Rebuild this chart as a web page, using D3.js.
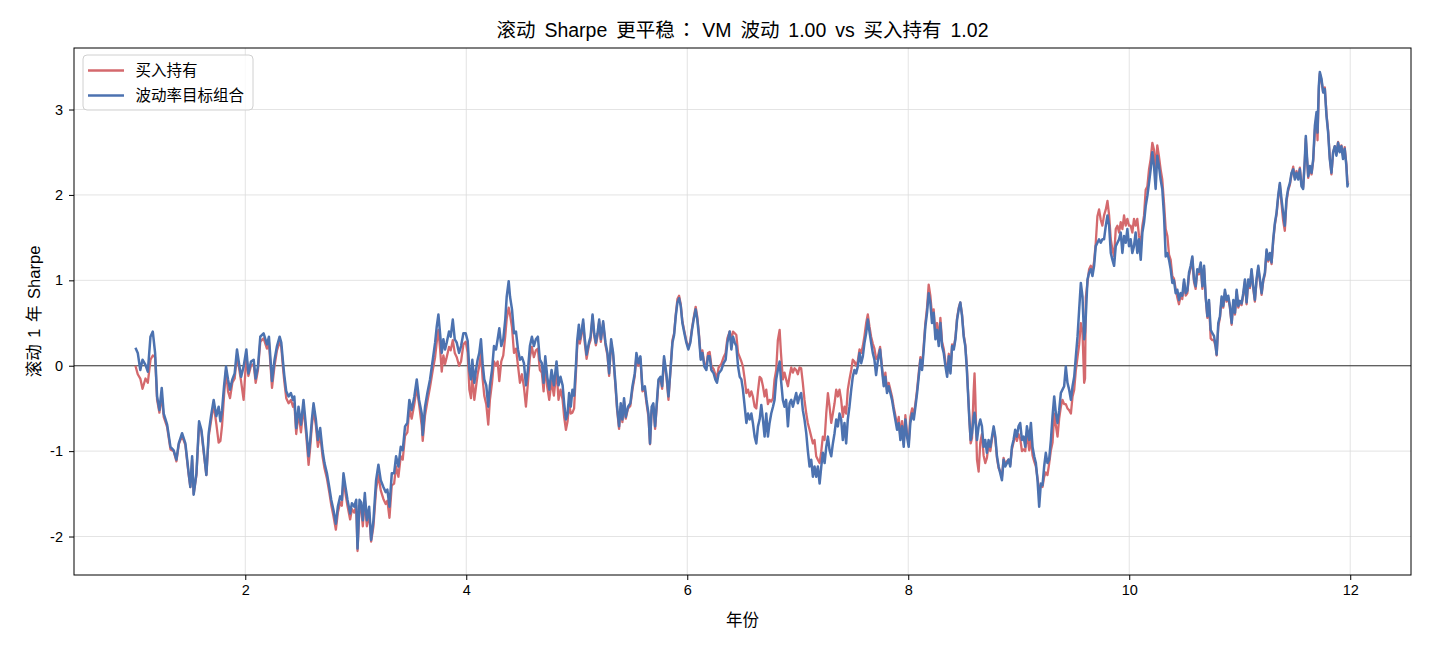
<!DOCTYPE html>
<html><head><meta charset="utf-8">
<script src="https://cdn.jsdelivr.net/npm/d3@7/dist/d3.min.js"></script>
<style>
body{margin:0;background:#fff}
text{font-family:"Liberation Sans","Noto Sans CJK SC",sans-serif;fill:#000}
</style>
</head><body>
<svg id="chart" width="1430" height="650"></svg>
<script>
// ---- data ----
const years = [
1.006,1.027,1.05,1.07,1.097,1.118,1.142,1.163,1.184,1.202,
1.223,1.244,1.262,1.293,1.323,1.352,1.377,1.398,1.428,1.458,
1.488,1.503,1.519,1.533,1.558,1.582,1.603,1.624,1.648,1.669,
1.69,1.714,1.738,1.759,1.775,1.79,1.808,1.826,1.844,1.862,
1.883,1.904,1.925,1.943,1.962,1.985,2.01,2.028,2.052,2.076,
2.094,2.115,2.136,2.166,2.196,2.214,2.242,2.265,2.287,2.311,
2.326,2.341,
2.353,2.371,2.392,2.413,2.432,2.444,2.461,2.482,2.504,2.527,
2.552,2.573,2.588,2.603,2.618,2.639,2.657,2.678,2.699,2.717,
2.739,2.76,2.778,2.798,2.82,2.838,2.859,2.874,2.889,2.907,
2.925,2.949,2.965,2.986,3.004,3.016,3.034,3.049,3.064,3.082,
3.1,3.121,3.139,3.16,3.184,3.205,3.226,3.25,3.271,3.286,
3.305,3.326,3.347,3.365,3.386,3.407,3.425,3.446,3.467,3.485,
3.506,3.53,3.552,3.573,
3.597,3.606,3.627,3.648,3.672,3.697,3.718,3.733,3.748,3.763,
3.778,3.793,3.808,3.823,3.844,3.859,3.878,3.896,3.914,3.935,
3.953,3.974,3.995,4.013,4.028,4.043,4.055,4.073,4.088,4.103,
4.118,4.133,4.148,4.163,4.181,4.199,4.214,4.233,4.251,4.269,
4.284,4.299,4.317,4.335,4.353,4.366,4.384,4.396,4.414,4.432,
4.45,4.468,4.486,4.504,4.522,4.54,4.558,4.576,4.594,4.612,
4.63,4.648,4.666,4.684,4.7,4.715,4.733,4.751,4.772,4.793,
4.817,4.835,4.853,4.872,4.886,4.902,4.917,4.931,4.946,4.961,
4.976,4.992,
5.004,5.019,5.028,5.043,5.058,5.073,5.089,5.11,5.125,5.143,
5.158,5.173,5.188,5.203,5.218,5.239,5.26,5.278,5.293,5.311,
5.329,5.35,5.365,5.383,5.398,5.413,5.428,5.443,5.464,5.485,
5.504,5.525,5.54,5.558,5.576,5.595,5.616,5.631,5.649,5.663,
5.678,5.693,5.709,5.724,5.74,5.758,5.773,5.79,5.811,5.83,
5.848,5.866,5.881,5.896,5.911,5.926,5.941,5.956,5.974,5.992,
6.01,6.028,6.043,6.058,6.076,6.091,6.106,6.122,6.137,6.155,
6.173,6.188,6.203,6.218,6.239,6.254,6.269,6.284,
6.308,6.329,6.347,6.363,6.384,6.399,6.414,6.43,6.444,6.46,
6.475,6.49,6.504,6.52,6.535,6.55,6.565,6.58,6.594,6.61,
6.625,6.64,6.655,6.67,6.685,6.7,6.715,6.73,6.745,6.76,
6.776,6.79,6.805,6.82,6.836,6.848,6.865,6.88,6.895,6.911,
6.926,6.941,6.956,6.971,6.986,7.001,7.016,7.031,7.046,7.061,
7.077,7.091,7.107,7.122,7.137,7.152,7.167,7.182,7.198,7.213,
7.227,7.243,7.258,7.273,7.288,7.303,7.318,7.333,7.348,7.363,
7.378,7.393,7.408,7.423,7.438,7.453,7.468,7.484,7.498,7.513,
7.528,7.543,7.559,7.574,7.589,7.604,7.619,7.634,7.649,7.664,
7.679,7.694,
7.709,7.724,7.745,7.763,7.778,7.793,7.808,7.823,7.838,7.853,
7.868,7.883,7.899,7.914,7.929,7.944,7.959,7.974,7.989,8.004,
8.019,8.035,8.05,8.065,8.08,8.095,8.11,8.125,8.14,8.155,
8.17,8.185,8.2,8.215,8.23,8.246,8.261,8.276,8.291,8.306,
8.321,8.337,8.352,8.367,8.382,8.397,8.412,8.427,8.442,8.457,
8.471,8.487,8.502,8.516,8.529,8.541,8.553,8.565,8.577,8.592,
8.6,8.607,8.622,8.637,8.652,8.667,8.682,8.697,8.712,8.727,
8.743,8.758,8.773,8.788,8.803,8.818,8.833,8.848,8.863,8.878,
8.893,8.908,8.923,8.938,8.953,8.968,8.983,8.998,9.013,9.029,
9.044,9.059,9.074,
9.095,9.11,9.125,9.14,9.155,9.17,9.185,9.2,9.215,9.23,
9.245,9.26,9.275,9.291,9.306,9.321,9.336,9.351,9.366,9.381,
9.396,9.411,9.426,9.441,9.456,9.472,9.487,9.502,9.517,9.532,
9.547,9.562,9.577,9.592,9.6,9.607,9.622,9.637,9.652,9.667,
9.682,9.697,9.712,9.727,9.742,9.757,9.772,9.788,9.803,9.818,
9.833,9.848,9.863,9.878,9.893,9.908,9.923,9.938,9.953,9.968,
9.983,9.998,10.013,10.028,10.043,10.058,10.073,10.088,10.104,10.119,
10.134,10.149,10.164,10.179,10.194,10.209,10.224,10.239,10.254,10.269,
10.284,10.299,10.315,10.33,10.345,10.36,10.375,10.39,10.405,10.42,
10.435,
10.45,10.465,10.48,10.496,10.511,10.526,10.541,10.556,10.571,10.586,
10.601,10.616,10.631,10.647,10.662,10.677,10.692,10.707,10.722,10.737,
10.752,10.767,10.782,10.791,10.806,10.821,10.836,10.851,10.866,10.881,
10.896,10.911,10.927,10.942,10.957,10.972,10.987,11.002,11.017,11.032,
11.047,11.062,11.077,11.092,11.107,11.122,11.137,11.152,11.168,11.183,
11.198,11.213,11.228,11.243,11.258,11.273,11.288,11.303,11.318,11.333,
11.348,11.363,11.378,11.393,11.408,11.423,11.438,11.454,11.469,11.484,
11.499,11.514,11.529,11.544,11.559,11.574,11.589,11.598,11.61,11.62,
11.635,11.65,11.665,11.68,11.695,11.704,11.716,11.725,11.74,11.755,
11.77,11.785,11.8,11.815,11.83,11.845,11.86,11.875,11.89,11.905,
11.92,11.935,11.95,11.965,11.975,11.98
];

// 波动率目标组合 (vol-target portfolio)
const volTarget = [
0.21,0.15,-0.05,0.07,0.01,-0.07,0.34,0.40,0.15,-0.36,
-0.52,-0.26,-0.56,-0.69,-0.95,-0.99,-1.10,-0.91,-0.79,-0.91,
-1.26,-1.42,-1.06,-1.51,-1.26,-0.65,-0.75,-0.99,-1.28,-0.79,
-0.59,-0.40,-0.59,-0.48,-0.65,-0.52,-0.24,-0.01,-0.16,-0.28,
-0.16,-0.09,0.19,0.03,-0.13,-0.01,0.19,-0.09,0.05,0.07,
-0.15,-0.01,0.34,0.38,0.25,0.34,-0.18,0.07,0.23,0.34,
0.27,0.05,
-0.11,-0.30,-0.36,-0.32,-0.40,-0.36,-0.73,-0.48,-0.69,-0.40,
-0.75,-1.06,-0.87,-0.63,-0.44,-0.63,-0.87,-0.73,-0.99,-1.14,
-1.26,-1.42,-1.57,-1.69,-1.85,-1.65,-1.53,-1.57,-1.26,-1.42,
-1.57,-1.73,-1.61,-1.65,-1.57,-2.14,-1.57,-1.60,-1.81,-1.49,
-1.81,-1.65,-2.04,-1.81,-1.34,-1.16,-1.34,-1.42,-1.48,-1.45,
-1.65,-1.26,-1.26,-1.06,-1.18,-0.95,-0.99,-0.71,-0.67,-0.40,
-0.52,-0.36,-0.16,-0.40,
-0.56,-0.81,-0.48,-0.32,-0.16,0.07,0.27,0.46,0.60,0.38,
0.15,0.31,0.19,0.27,0.40,0.34,0.54,0.31,0.27,0.15,
0.23,0.38,0.38,0.29,-0.05,-0.16,0.07,-0.20,-0.05,0.07,
0.15,0.31,0.03,-0.16,-0.23,-0.48,-0.23,-0.05,0.23,0.19,
0.31,0.44,0.23,0.31,0.54,0.81,0.99,0.81,0.66,0.38,
0.40,0.19,0.07,0.10,0.03,-0.23,-0.05,0.23,0.34,0.23,
0.31,0.34,0.07,0.03,-0.20,0.11,-0.13,-0.28,-0.05,-0.23,
0.05,-0.23,-0.13,-0.23,-0.44,-0.63,-0.56,-0.32,-0.48,-0.28,
-0.35,-0.01,
0.29,0.48,0.31,0.40,0.54,0.31,0.13,0.27,0.34,0.60,
0.38,0.27,0.38,0.54,0.31,0.52,0.27,0.15,-0.09,0.31,
0.15,-0.20,-0.48,-0.71,-0.44,-0.63,-0.38,-0.60,-0.48,-0.44,
-0.24,-0.09,0.15,0.03,0.11,-0.28,-0.24,-0.40,-0.56,-0.91,
-0.48,-0.44,-0.71,-0.44,-0.16,-0.13,-0.24,0.11,-0.09,-0.36,
-0.05,0.27,0.36,0.58,0.74,0.79,0.70,0.50,0.38,0.27,
0.19,0.27,0.42,0.54,0.66,0.54,0.34,0.07,0.15,-0.01,
-0.05,0.11,0.11,-0.05,-0.09,-0.16,-0.20,-0.09,
-0.05,0.03,0.07,0.27,0.40,0.19,0.34,0.27,0.23,-0.01,
-0.13,-0.16,-0.28,-0.48,-0.67,-0.56,-0.63,-0.56,-0.67,-0.83,
-0.91,-0.71,-0.63,-0.46,-0.63,-0.83,-0.56,-0.83,-0.67,-0.56,
-0.48,-0.40,-0.16,-0.05,0.05,-0.16,-0.40,-0.48,-0.40,-0.71,
-0.44,-0.40,-0.48,-0.40,-0.32,-0.44,-0.36,-0.32,-0.52,-0.63,
-0.79,-0.99,-1.18,-1.10,-1.30,-1.18,-1.30,-1.18,-1.38,-1.18,
-1.02,-1.14,-0.95,-0.83,-0.99,-1.06,-0.91,-0.79,-0.63,-0.71,
-0.56,-0.63,-0.87,-0.67,-0.91,-0.63,-0.48,-0.28,-0.13,-0.05,
-0.09,-0.01,0.15,0.03,0.11,0.27,0.38,0.54,0.40,0.27,
0.15,0.07,
-0.11,0.05,0.19,-0.05,-0.24,-0.13,-0.32,-0.24,-0.32,-0.40,
-0.52,-0.63,-0.75,-0.67,-0.87,-0.71,-0.95,-0.63,-0.83,-0.95,
-0.67,-0.56,-0.63,-0.48,-0.32,-0.13,0.07,-0.05,0.19,0.46,
0.62,0.85,0.74,0.50,0.62,0.31,0.42,0.23,0.50,0.23,
0.15,-0.01,-0.13,0.11,-0.09,0.23,0.19,0.31,0.54,0.66,
0.74,0.58,0.34,0.23,-0.01,-0.32,-0.63,-0.87,-0.79,-0.60,
-0.55,-0.63,-0.87,-0.71,-0.63,-0.71,-0.95,-0.87,-1.02,-0.87,
-0.95,-0.83,-0.71,-0.83,-1.06,-1.18,-1.26,-1.34,-1.10,-1.18,
-1.14,-1.10,-1.18,-0.95,-0.87,-0.75,-0.83,-0.71,-0.67,-0.87,
-0.83,-0.95,-0.71,
-0.87,-0.67,-0.95,-1.06,-1.14,-1.34,-1.65,-1.38,-1.40,-1.18,
-1.02,-1.14,-1.10,-0.87,-0.59,-0.36,-0.56,-0.67,-0.52,-0.32,
-0.28,-0.24,-0.01,-0.20,-0.28,-0.40,-0.24,-0.13,0.11,0.34,
0.66,0.97,0.81,0.31,0.40,0.58,1.01,1.09,1.13,1.05,
1.17,1.40,1.44,1.48,1.44,1.48,1.48,1.64,1.76,1.64,
1.32,1.24,1.17,1.40,1.44,1.48,1.56,1.32,1.52,1.44,
1.60,1.40,1.48,1.32,1.40,1.56,1.32,1.48,1.24,1.56,
1.68,1.87,1.99,2.14,2.30,2.50,2.34,2.07,2.46,2.34,
2.18,2.07,1.75,1.28,1.32,1.24,1.13,0.97,1.00,0.85,
0.89,
0.77,0.85,0.82,1.01,0.85,0.88,1.09,1.17,1.28,1.01,
0.93,1.13,1.10,1.21,0.93,1.17,0.81,0.58,0.77,0.42,
0.38,0.35,0.23,0.13,0.50,0.58,0.81,0.70,0.89,0.77,
0.82,0.70,0.50,0.77,0.62,0.89,0.70,0.76,0.73,0.85,
1.01,0.74,1.01,0.93,1.13,0.93,0.77,1.01,1.17,1.01,
0.85,1.01,1.09,1.36,1.24,1.32,1.21,1.48,1.67,1.79,
1.99,2.14,1.95,1.79,1.64,1.95,2.07,2.14,2.26,2.30,
2.18,2.26,2.18,2.30,2.10,2.07,2.42,2.69,2.42,2.22,
2.34,2.26,2.42,2.81,2.97,2.73,3.28,3.44,3.36,3.20,
3.24,2.93,2.73,2.42,2.26,2.50,2.57,2.46,2.61,2.50,
2.57,2.42,2.54,2.34,2.10,2.14
];

// 买入持有 (buy and hold)
const buyHold = [
0.00,-0.10,-0.15,-0.27,-0.15,-0.20,0.07,0.12,0.10,-0.40,
-0.55,-0.35,-0.60,-0.72,-0.98,-1.00,-1.12,-0.92,-0.82,-0.93,
-1.28,-1.42,-1.10,-1.50,-1.28,-0.68,-0.77,-1.02,-1.28,-0.83,
-0.65,-0.45,-0.68,-0.90,-0.88,-0.70,-0.35,-0.05,-0.30,-0.38,
-0.20,-0.15,0.12,-0.02,-0.18,-0.40,0.12,-0.12,0.00,0.02,
-0.20,-0.05,0.28,0.32,0.20,0.28,-0.26,0.00,0.18,0.28,
0.22,-0.02,
-0.18,-0.38,-0.44,-0.40,-0.48,-0.44,-0.80,-0.55,-0.78,-0.48,
-0.82,-1.16,-0.95,-0.70,-0.52,-0.70,-0.95,-0.80,-1.06,-1.20,
-1.32,-1.48,-1.63,-1.76,-1.92,-1.72,-1.60,-1.64,-1.32,-1.50,
-1.64,-1.80,-1.68,-1.72,-1.64,-2.17,-1.64,-1.68,-1.88,-1.56,
-1.88,-1.72,-2.06,-1.88,-1.45,-1.28,-1.46,-1.56,-1.62,-1.58,
-1.78,-1.40,-1.38,-1.18,-1.30,-1.06,-1.10,-0.82,-0.78,-0.50,
-0.62,-0.45,-0.25,-0.45,
-0.70,-0.88,-0.58,-0.42,-0.25,-0.05,0.10,0.28,0.42,0.20,
-0.07,0.12,0.02,0.10,0.22,0.18,0.30,0.15,0.10,0.00,
0.05,0.25,0.28,0.15,-0.28,-0.38,-0.10,-0.40,-0.25,-0.10,
0.00,0.15,-0.15,-0.35,-0.45,-0.69,-0.40,-0.20,0.05,0.00,
0.05,-0.18,0.05,0.12,0.35,0.55,0.68,0.60,0.45,0.15,
0.20,0.00,-0.20,-0.10,-0.25,-0.48,-0.20,0.10,0.22,0.10,
0.18,0.20,-0.05,-0.08,-0.30,0.00,-0.25,-0.40,-0.18,-0.35,
-0.05,-0.40,-0.28,-0.40,-0.60,-0.75,-0.65,-0.45,-0.56,-0.55,
-0.50,-0.10,
0.22,0.42,0.26,0.36,0.50,0.26,0.08,0.24,0.30,0.58,
0.35,0.24,0.35,0.52,0.28,0.50,0.24,0.12,-0.12,0.28,
0.12,-0.24,-0.52,-0.74,-0.48,-0.66,-0.42,-0.62,-0.50,-0.47,
-0.28,-0.12,0.12,0.00,0.08,-0.30,-0.28,-0.44,-0.60,-0.92,
-0.52,-0.48,-0.74,-0.48,-0.18,-0.16,-0.27,0.08,-0.12,-0.40,
-0.06,0.30,0.38,0.60,0.78,0.82,0.72,0.52,0.40,0.29,
0.21,0.29,0.44,0.56,0.69,0.57,0.37,0.10,0.18,0.02,
0.00,0.15,0.16,0.00,-0.04,-0.10,-0.14,-0.02,
0.02,0.10,0.15,0.32,0.40,0.30,0.40,0.38,0.36,0.15,
0.10,0.05,-0.01,-0.16,-0.32,-0.28,-0.36,-0.30,-0.36,-0.48,
-0.50,-0.30,-0.13,-0.15,-0.24,-0.36,-0.28,-0.45,-0.40,-0.42,
-0.38,-0.16,-0.05,0.30,0.42,0.15,-0.16,-0.08,-0.16,-0.24,
-0.12,-0.02,-0.08,-0.03,-0.05,-0.10,-0.02,-0.03,-0.20,-0.40,
-0.56,-0.67,-0.75,-0.83,-0.91,-0.87,-1.06,-1.10,-1.14,-1.00,
-0.83,-0.87,-0.56,-0.32,-0.48,-0.67,-0.56,-0.44,-0.28,-0.36,
-0.28,-0.40,-0.60,-0.48,-0.56,-0.28,-0.16,-0.05,0.07,0.05,
0.00,0.05,0.19,0.15,0.23,0.35,0.50,0.60,0.46,0.34,
0.26,0.20,
0.08,0.10,0.22,-0.02,-0.20,-0.08,-0.28,-0.20,-0.28,-0.36,
-0.48,-0.58,-0.70,-0.60,-0.84,-0.65,-0.92,-0.58,-0.80,-0.92,
-0.60,-0.50,-0.58,-0.44,-0.28,-0.08,0.10,-0.02,0.24,0.50,
0.68,0.95,0.82,0.60,0.66,0.36,0.50,0.28,0.56,0.28,
0.20,0.04,-0.10,0.14,-0.06,0.25,0.21,0.33,0.56,0.68,
0.74,0.60,0.36,0.25,0.02,-0.30,-0.62,-0.91,-0.85,-0.30,
-0.09,-0.35,-1.10,-1.24,-0.90,-0.80,-1.05,-1.14,-1.08,-0.92,
-1.00,-0.86,-0.74,-0.86,-1.08,-1.20,-1.24,-1.30,-1.08,-1.16,
-1.12,-1.10,-1.16,-0.98,-0.90,-0.80,-0.88,-0.80,-0.85,-1.00,
-0.98,-1.00,-0.78,
-0.99,-0.85,-1.05,-1.12,-1.18,-1.32,-1.45,-1.40,-1.42,-1.30,
-1.25,-1.28,-1.15,-0.99,-0.90,-0.56,-0.70,-0.83,-0.62,-0.48,
-0.40,-0.45,-0.45,-0.50,-0.52,-0.56,-0.36,-0.28,-0.05,0.10,
0.25,0.50,0.40,-0.20,-0.15,0.80,0.97,1.13,1.17,1.10,
1.22,1.44,1.75,1.83,1.71,1.64,1.76,1.83,1.93,1.76,
1.48,1.36,1.28,1.60,1.64,1.56,1.68,1.60,1.76,1.64,
1.72,1.64,1.64,1.56,1.72,1.64,1.72,1.52,1.44,1.64,
1.76,2.06,2.10,2.30,2.42,2.61,2.53,2.30,2.58,2.45,
2.30,2.18,1.90,1.60,1.52,1.30,1.24,1.05,1.02,0.90,
0.80,
0.72,0.82,0.78,0.98,0.82,0.85,1.06,1.14,1.26,0.98,
0.90,1.10,1.07,1.18,0.90,1.14,0.79,0.56,0.74,0.32,
0.30,0.30,0.22,0.12,0.46,0.56,0.78,0.68,0.86,0.75,
0.80,0.68,0.48,0.75,0.60,0.87,0.68,0.74,0.71,0.83,
0.99,0.72,0.99,0.91,1.11,0.91,0.75,0.99,1.15,0.99,
0.83,0.99,1.07,1.34,1.22,1.30,1.19,1.46,1.65,1.77,
1.97,2.12,1.90,1.70,1.58,1.92,2.05,2.12,2.24,2.33,
2.20,2.28,2.20,2.32,2.12,2.09,2.40,2.66,2.40,2.20,
2.32,2.24,2.40,2.76,2.92,2.64,3.24,3.42,3.34,3.20,
3.26,2.95,2.75,2.44,2.24,2.50,2.57,2.48,2.62,2.52,
2.58,2.46,2.56,2.36,2.14,2.16
];

const xTicks = [2, 4, 6, 8, 10, 12];
const yTicks = [-2, -1, 0, 1, 2, 3];
const seriesNames = ["买入持有", "波动率目标组合"];
const titleParts = ["滚动 Sharpe 更平稳", "：", "VM 波动 1.00 vs 买入持有 1.02"];
const xLabel = "年份";
const yLabel = "滚动 1 年 Sharpe";

// ---- drawing ----
const W = 1430, H = 650;
const m = {left: 74, right: 19, top: 48, bottom: 75};
const pw = W - m.left - m.right, ph = H - m.top - m.bottom;
const colors = {buy: "#d4696d", vol: "#4c72b0"};
const FONT = '"Liberation Sans","Noto Sans CJK SC",sans-serif';

const svg = d3.select("#chart");
const g = svg.append("g").attr("transform", `translate(${m.left},${m.top})`);

const allV = buyHold.concat(volTarget);
const yExt = d3.extent(allV);
const yPad = (yExt[1] - yExt[0]) * 0.05;
const x = d3.scaleLinear().domain([0.45, 12.55]).range([0, pw]);
const y = d3.scaleLinear().domain([yExt[0] - yPad, yExt[1] + yPad]).range([ph, 0]);

// grid
g.append("g").selectAll("line").data(xTicks).join("line")
  .attr("x1", d => x(d)).attr("x2", d => x(d)).attr("y1", 0).attr("y2", ph)
  .attr("stroke", "#dcdcdc").attr("stroke-width", 0.8);
g.append("g").selectAll("line").data(yTicks).join("line")
  .attr("y1", d => y(d)).attr("y2", d => y(d)).attr("x1", 0).attr("x2", pw)
  .attr("stroke", "#dcdcdc").attr("stroke-width", 0.8);

// zero line
g.append("line").attr("x1", 0).attr("x2", pw).attr("y1", y(0)).attr("y2", y(0))
  .attr("stroke", "#333").attr("stroke-width", 1.2);

const lineGen = vals => d3.line().x((d, i) => x(years[i])).y(d => y(d))(vals);

g.append("path").attr("d", lineGen(buyHold)).attr("fill", "none")
  .attr("stroke", colors.buy).attr("stroke-width", 2.3).attr("stroke-linejoin", "round");
g.append("path").attr("d", lineGen(volTarget)).attr("fill", "none")
  .attr("stroke", colors.vol).attr("stroke-width", 2.5).attr("stroke-linejoin", "round");

// axes
const xAxis = g.append("g").attr("transform", `translate(0,${ph})`)
  .call(d3.axisBottom(x).tickValues(xTicks).tickSize(5).tickPadding(5).tickFormat(d3.format("d")));
const yAxis = g.append("g")
  .call(d3.axisLeft(y).tickValues(yTicks).tickSize(5).tickPadding(6).tickFormat(d => String(d)));
[xAxis, yAxis].forEach(a => {
  a.select(".domain").remove();
  a.selectAll("line").attr("stroke", "#000").attr("stroke-width", 1);
  a.selectAll("text").attr("font-size", 14.5).attr("fill", "#000").style("font-family", FONT);
});

// frame
g.append("rect").attr("x", 0).attr("y", 0).attr("width", pw).attr("height", ph)
  .attr("fill", "none").attr("stroke", "#000").attr("stroke-width", 1);

// title and labels
const title = svg.append("text").attr("x", m.left + pw / 2).attr("y", 37).attr("text-anchor", "middle")
  .attr("font-size", 19.5).style("word-spacing", "3.5px");
title.append("tspan").text(titleParts[0]);
title.append("tspan").attr("dx", 2).style("font-family", '"Noto Sans CJK TC",sans-serif').text(titleParts[1]);
title.append("tspan").attr("dx", 6).text(titleParts[2]);

svg.append("text").attr("x", m.left + pw / 2).attr("y", 626).attr("text-anchor", "middle")
  .attr("font-size", 16.5).text(xLabel);
svg.append("text").attr("transform", `translate(40,${m.top + ph / 2}) rotate(-90)`)
  .attr("text-anchor", "middle").attr("font-size", 16.5).style("word-spacing", "2px").text(yLabel);

// legend
const lg = svg.append("g").attr("transform", "translate(83,55)");
lg.append("rect").attr("width", 170).attr("height", 55).attr("rx", 4)
  .attr("fill", "#fff").attr("fill-opacity", 0.8).attr("stroke", "#d0d0d0").attr("stroke-width", 1);
const items = [{name: seriesNames[0], c: colors.buy, w: 2.3}, {name: seriesNames[1], c: colors.vol, w: 2.5}];
items.forEach((it, i) => {
  const yy = 15.5 + i * 25;
  lg.append("line").attr("x1", 5).attr("x2", 41).attr("y1", yy).attr("y2", yy)
    .attr("stroke", it.c).attr("stroke-width", it.w);
  lg.append("text").attr("x", 52.5).attr("y", yy + 5.5).attr("font-size", 15.5).text(it.name);
});
</script>
</body></html>
